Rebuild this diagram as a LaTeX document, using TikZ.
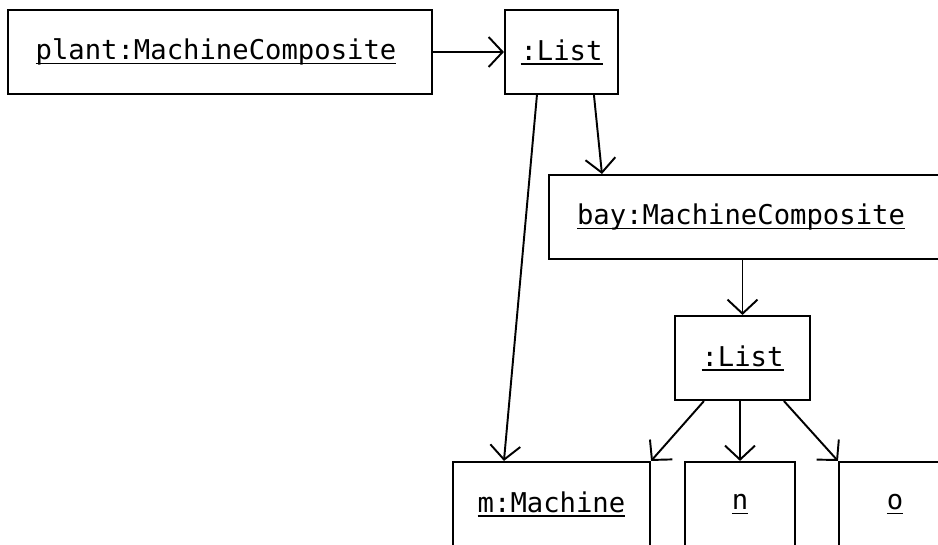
\documentclass[tikz,border=0pt]{standalone}
\usepackage{fontspec}
\usepackage{tikz}
\usetikzlibrary{arrows.meta}
\newfontfamily\objfont{DejaVu Sans Mono}
\newcommand{\uname}[1]{\setbox0\hbox{#1}\rlap{\rule[-2.6pt]{\wd0}{0.8pt}}\box0}
\tikzset{
    obj/.style={rectangle, draw, line width=1.2pt, minimum height=1.68cm,
    	inner sep=0pt, font=\objfont\fontsize{15.5}{18}\selectfont},
    link/.style={line width=1.1pt, -{Straight Barb[length=0.28cm, width=0.6cm, line width=1.1pt]}}
}

\begin{document}
\begin{tikzpicture}
	\useasboundingbox (0cm,0cm) rectangle (18.76cm,-10.88cm);
	\clip (0cm,0cm) rectangle (18.76cm,-10.88cm);
	\node [obj, minimum width=8.48cm] (plant) at (4.40cm,-1.04cm) {\uname{plant:MachineComposite}\hspace*{0.16cm}};
	\node [obj, minimum width=2.26cm] (list) at (11.23cm,-1.04cm) {\uname{:List}};
	\node [obj, minimum width=7.92cm] (bay) at (14.94cm,-4.34cm) {\uname{bay:MachineComposite}\hspace*{0.24cm}};
	\node [obj, minimum width=2.70cm] (sublist) at (14.85cm,-7.16cm) {\uname{:List}};
	\node [obj, minimum width=3.94cm] (m) at (11.03cm,-10.08cm) {\uname{m:Machine}};
	\node [obj, minimum width=2.20cm] (n) at (14.80cm,-10.08cm) {\uname{n}};
	\node [obj, minimum width=2.24cm] (o) at (17.90cm,-10.08cm) {\uname{o}};
	\draw [link] (plant.east) -- (list.west);
	\draw [link] ([xshift=0.66cm]list.south west) -- ([xshift=1.04cm]m.north west);
	\draw [link] ([xshift=1.80cm]list.south west) -- ([xshift=1.08cm]bay.north west);
	\draw [link] (sublist.north |- bay.south) -- (sublist.north);
	\draw [link] ([xshift=0.60cm]sublist.south west) -- (m.north east);
	\draw [link] (n.north |- sublist.south) -- (n.north);
	\draw [link] ([xshift=2.20cm]sublist.south west) -- (o.north west);
\end{tikzpicture}
\end{document}
